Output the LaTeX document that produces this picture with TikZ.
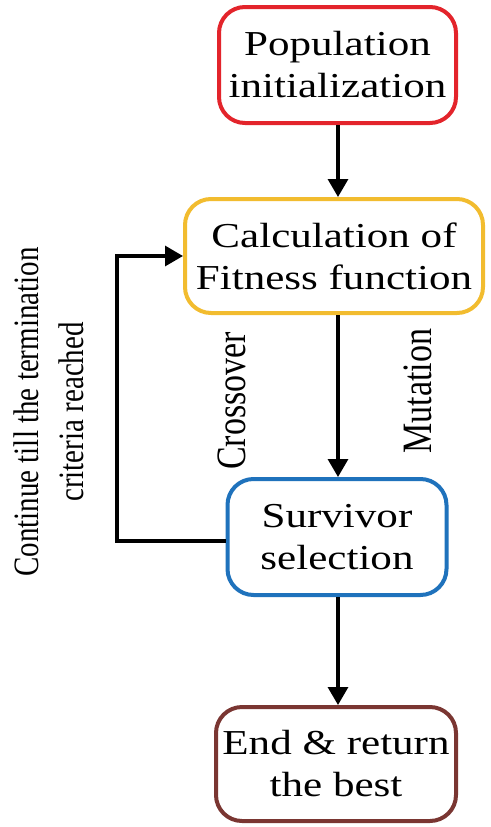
\documentclass[tikz,border=0pt]{standalone}
\usepackage{fontspec}
\setmainfont{Liberation Serif}[FakeStretch=1.23]
\newfontfamily\rotfont{Liberation Serif}
\usetikzlibrary{arrows.meta}
\definecolor{cred}{HTML}{E3242B}
\definecolor{cyel}{HTML}{F2BC2F}
\definecolor{cblue}{HTML}{1F72BC}
\definecolor{cbrown}{HTML}{7A3632}
\tikzset{
  box/.style={draw, line width=4pt, rounded corners=26pt, fill=white, align=center,
    inner sep=0pt, font=\fontsize{35}{42}\selectfont},
  arr/.style={line width=3.2pt, -{Triangle[length=18pt,width=20pt]}},
  lbl/.style={rotate=90, inner sep=0pt, align=center}
}
\begin{document}
\begin{tikzpicture}[x=1pt,y=-1pt]
\useasboundingbox (0,0) rectangle (490,827);
\node[box, draw=cred, minimum width=237pt, minimum height=116pt] (pop) at (337.5,65) {Population\\initialization};
\node[box, draw=cyel, minimum width=298pt, minimum height=114pt] (fit) at (334,256) {Calculation of\\Fitness function};
\node[box, draw=cblue, minimum width=219pt, minimum height=116pt] (surv) at (337,537) {Survivor\\selection};
\node[box, draw=cbrown, minimum width=240pt, minimum height=114pt] (end) at (336,764) {End \& return\\the best};
\coordinate (lp) at (117,541);
\draw[arr] (pop.south -| 338,0) -- (338,0 |- fit.north);
\draw[arr] (fit.south -| 338,0) -- (338,0 |- surv.north);
\draw[arr] (surv.south -| 338,0) -- (338,0 |- end.north);
\draw[arr, rounded corners=0pt] (surv.west |- lp) -- (lp) |- (fit.west);
\node[lbl] (cross) at (232,401) {\scalebox{1}[1.23]{\rotfont\fontsize{34}{40}\selectfont Crossover}};
\node[lbl] (mut) at (418,391) {\scalebox{1}[1.23]{\rotfont\fontsize{34}{40}\selectfont Mutation}};
\node[lbl] (cont) at (52,412) {\scalebox{1}[1.23]{\rotfont\fontsize{29}{37}\selectfont\begin{tabular}{@{}c@{}}Continue till the termination\\criteria reached\end{tabular}}};
\end{tikzpicture}
\end{document}
